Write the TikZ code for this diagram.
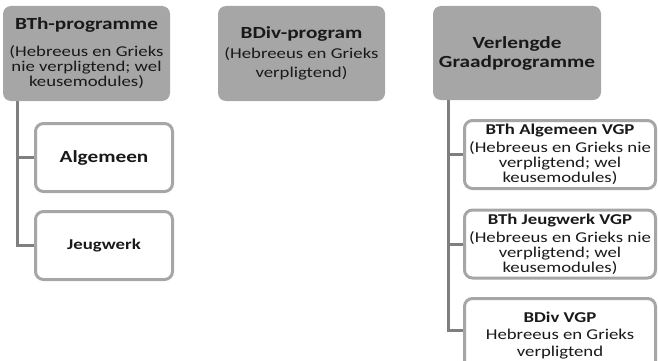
\documentclass[tikz,border=0pt]{standalone}
\usepackage{fontspec}
\setmainfont[FakeStretch=1.25]{Carlito}
\usetikzlibrary{backgrounds}
\definecolor{boxgray}{RGB}{166,166,166}
\definecolor{linegray}{RGB}{127,127,127}
\definecolor{txt}{RGB}{25,25,25}
\newcommand\hdfont{\bfseries\fontsize{17}{17}\selectfont}
\newcommand\sbfont{\bfseries\fontsize{15}{15}\selectfont}
\tikzset{
  parentbox/.style={rectangle, rounded corners=8pt, fill=boxgray, draw=none,
    minimum width=167pt, minimum height=95pt, align=center, inner sep=0pt,
    text=txt, font=\fontsize{15}{15}\selectfont},
  childbox/.style={rectangle, rounded corners=8pt, fill=white, draw=boxgray,
    line width=3pt, align=center, inner sep=0pt, text=txt,
    font=\fontsize{15}{15}\selectfont, minimum height=68pt},
  leftchild/.style={childbox, minimum width=137pt},
  rightchild/.style={childbox, minimum width=191pt},
  conn/.style={draw=linegray, line width=3pt},
}
\begin{document}
\begin{tikzpicture}[x=1pt,y=-1pt]
\useasboundingbox (0,0) rectangle (658,361);
\clip (0,0) rectangle (658,361);

\node[parentbox] (A) at (86.5,53.5) {{\hdfont BTh-programme}\\[12pt]
  (Hebreeus en Grieks\\nie verpligtend; wel\\keusemodules)};
\node[parentbox] (B) at (301.5,53.5) {{\hdfont BDiv-program}\\[5pt]
  (Hebreeus en Grieks\\[4pt]verpligtend)};
\node[parentbox, minimum width=168pt, minimum height=94pt] (C) at (517,53)
  {{\hdfont Verlengde}\\[4pt]{\hdfont Graadprogramme}};

\node[leftchild] (A1) at (104,157.5) {{\hdfont Algemeen}};
\node[leftchild] (A2) at (104,245.5) {{\sbfont Jeugwerk}};

\node[rightchild] (C1) at (560,154.5) {{\sbfont BTh Algemeen VGP}\\[3pt]
  (Hebreeus en Grieks nie\\verpligtend; wel\\keusemodules)};
\node[rightchild] (C2) at (560,244) {{\sbfont BTh Jeugwerk VGP}\\[3pt]
  (Hebreeus en Grieks nie\\verpligtend; wel\\keusemodules)};
\node[rightchild, minimum height=74pt] (C3) at (560,335.5) {{\sbfont BDiv VGP}\\[2pt]
  Hebreeus en Grieks\\[2pt]verpligtend};

\begin{scope}[on background layer]
  \draw[conn] ([xshift=15pt]A.south west) |- (A1.west);
  \draw[conn] ([xshift=15pt]A.south west) |- (A2.west);
  \draw[conn] ([xshift=15.5pt]C.south west) |- (C1.west);
  \draw[conn] ([xshift=15.5pt]C.south west) |- (C2.west);
  \draw[conn] ([xshift=15.5pt]C.south west) |- ([yshift=5pt]C3.west);
\end{scope}
\end{tikzpicture}
\end{document}
